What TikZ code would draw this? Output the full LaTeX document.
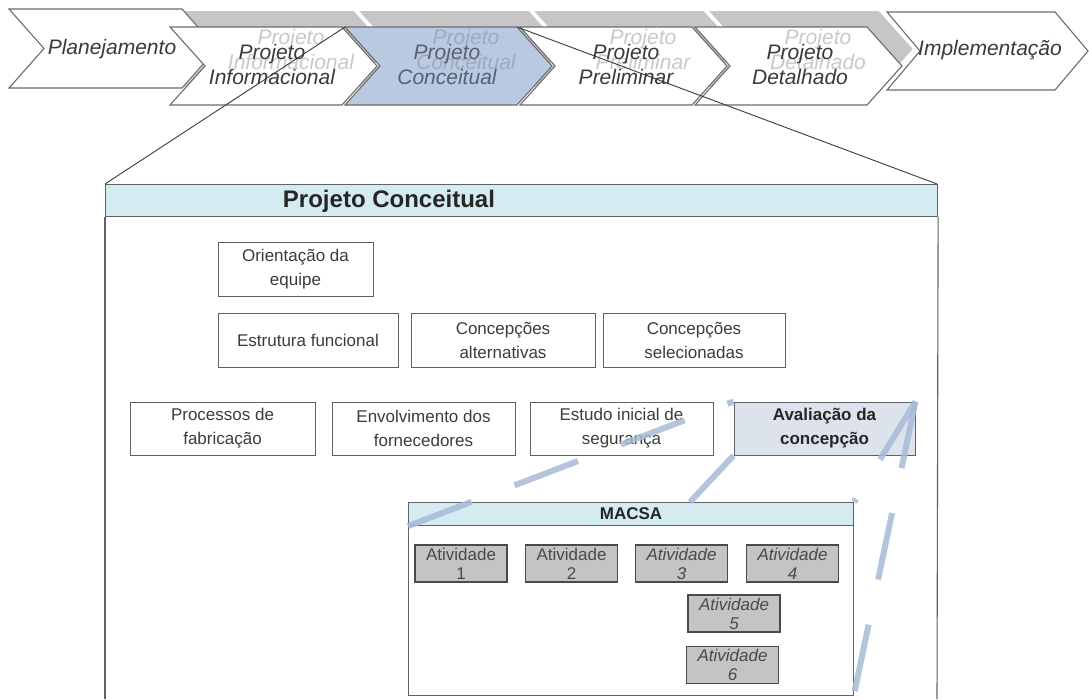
\documentclass[tikz,border=0pt]{standalone}
\usepackage{fontspec}
\setmainfont{Liberation Sans}
\usetikzlibrary{calc}

\definecolor{chevborder}{HTML}{6C6C6C}
\definecolor{shadowgray}{HTML}{C6C6C6}
\definecolor{fadegray}{HTML}{C9C9C9}
\definecolor{fadeblue}{HTML}{9DAAC0}
\definecolor{chevink}{HTML}{3A3A3A}
\definecolor{concblue}{HTML}{B9C9E2}
\definecolor{concink}{HTML}{58616F}
\definecolor{headcyan}{HTML}{D4ECF1}
\definecolor{evalfill}{HTML}{DDE3ED}
\definecolor{dashblue}{HTML}{A6BBD7}
\definecolor{actgray}{HTML}{C4C4C4}
\definecolor{actink}{HTML}{4A4A4A}
\definecolor{boxink}{HTML}{3C3C3C}
\definecolor{frameline}{HTML}{626262}

% chevron: style, left x, top y, body width, height, point depth
\newcommand{\chevshape}[6]{%
  \path[#1] (#2,#3) -- ++(#4,0) -- ++(#6,#5/2) -- ++(-#6,#5/2)
    -- ++(-#4,0) -- ++(#6,-#5/2) -- cycle;}

\begin{document}
\begin{tikzpicture}[x=1pt,y=-1pt,
  chev/.style={draw=chevborder, line width=1.1pt, fill=white, line join=miter},
  shadowchev/.style={fill=shadowgray, draw=white, line width=1.6pt},
  chevtext/.style={font=\fontsize{21}{25}\selectfont\itshape, text=chevink, align=center, inner sep=0pt},
  fadetext/.style={chevtext, text=fadegray},
  stagebox/.style={draw=frameline, line width=1pt, fill=white, align=center,
    font=\fontsize{17}{24}\selectfont, text=boxink, inner sep=1pt, minimum height=54pt},
  actbox/.style={draw=actink, line width=1.1pt, fill=actgray, align=center,
    font=\fontsize{17}{19}\selectfont, text=actink, minimum width=92pt, minimum height=37pt, inner sep=0pt},
  actit/.style={actbox, font=\fontsize{17}{19}\selectfont\itshape},
  zoomline/.style={draw=chevink, line width=0.9pt},
  dashproj/.style={draw=dashblue, line width=6pt, dash pattern=on 68pt off 46pt, opacity=0.85}
]
\useasboundingbox (0,0) rectangle (1089,699);

% shaded copies of the design phases, behind the main row
\chevshape{shadowchev}{182}{10}{172}{78}{35}
\chevshape{shadowchev}{357}{10}{172}{78}{35}
\chevshape{shadowchev}{532}{10}{172}{78}{35}
\chevshape{shadowchev}{707}{10}{172}{78}{35}

% outer phases
\chevshape{chev}{9}{9}{173}{79}{35}
\chevshape{chev}{887}{12}{168}{78}{33}

% design phases
\chevshape{chev}{170}{27}{172}{78}{35}
\chevshape{chev,fill=concblue}{345}{27}{172}{78}{35}
\chevshape{chev}{520}{27}{172}{78}{35}
\chevshape{chev}{695}{27}{172}{78}{35}

% faded labels of the shaded copies
\node[fadetext] (fInf) at (291,49) {Projeto\\Informacional};
\node[fadetext, text=fadeblue] (fCon) at (466,49) {Projeto\\Conceitual};
\node[fadetext] (fPre) at (643,49) {Projeto\\Preliminar};
\node[fadetext] (fDet) at (818,49) {Projeto\\Detalhado};

% phase labels
\node[chevtext] (plan) at (112,49) {Planejamento};
\node[chevtext] (impl) at (990,50) {Implementação};
\node[chevtext] (inf) at (272,64) {Projeto\\Informacional};
\node[chevtext, text=concink] (con) at (447,64) {Projeto\\Conceitual};
\node[chevtext] (pre) at (626,64) {Projeto\\Preliminar};
\node[chevtext] (det) at (800,64) {Projeto\\Detalhado};

% detail frame of the conceptual phase
\coordinate (conTL) at (345,27);
\coordinate (conTR) at (517,27);
\coordinate (frTL) at (105,184);
\coordinate (frTR) at (937,184);
\node[draw=frameline, line width=1.1pt, fill=headcyan, minimum width=832pt, minimum height=32pt,
  anchor=north west, inner sep=0pt] (head) at (frTL) {};
\node[font=\fontsize{24}{28}\selectfont\bfseries, text=black!85, inner sep=0pt] (headtxt) at (389,201) {Projeto Conceitual};
\draw[draw=frameline, line width=1.1pt] (head.south west) -- (105,699);
\draw[draw=frameline, line width=1.1pt] (head.south east) -- (937,699);
\draw[zoomline] (conTL) -- (frTL);
\draw[zoomline] (conTR) -- (frTR);

% activities of the conceptual phase
\node[stagebox, minimum width=155pt] (orient) at (295.5,269.5) {Orientação da\\equipe};
\node[stagebox, minimum width=180pt] (estr) at (308,340.5) {Estrutura funcional};
\node[stagebox, minimum width=184pt] (calt) at (503,340.5) {Concepções\\alternativas};
\node[stagebox, minimum width=182pt] (csel) at (694,340.5) {Concepções\\selecionadas};
\node[stagebox, minimum width=185pt, minimum height=53pt] (proc) at (222.5,428.5) {Processos de\\fabricação};
\node[stagebox, minimum width=183pt, minimum height=53pt] (envol) at (423.5,428.5) {Envolvimento dos\\fornecedores};
\node[stagebox, minimum width=183pt, minimum height=53pt] (estudo) at (621.5,428.5) {Estudo inicial de\\segurança};
\node[stagebox, minimum width=181pt, minimum height=53pt, fill=evalfill, font=\fontsize{17}{24}\selectfont\bfseries, text=black!85] (aval) at (824.5,428.5) {Avaliação da\\concepção};

% MACSA detail
\node[draw=frameline, line width=1.1pt, fill=white, minimum width=445pt, minimum height=193pt,
  anchor=north west, inner sep=0pt] (macsa) at (408,502) {};
\node[draw=frameline, line width=1.1pt, fill=headcyan, minimum width=445pt, minimum height=23pt,
  anchor=north west, inner sep=0pt] (mhead) at (408,502) {};
\node[font=\fontsize{17}{20}\selectfont\bfseries, text=black!85, inner sep=0pt] (mtxt) at (mhead.center) {MACSA};

\node[actbox] (a1) at (461,563.5) {Atividade\\1};
\node[actbox] (a2) at (571.5,563.5) {Atividade\\2};
\node[actit] (a3) at (681.5,563.5) {Atividade\\3};
\node[actit] (a4) at (792.5,563.5) {Atividade\\4};
\node[actit] (a5) at (734,613.5) {Atividade\\5};
\node[actit] (a6) at (732.5,665) {Atividade\\6};

% projection of the evaluation step onto the MACSA detail
\coordinate (mBR) at (853,699);
\coordinate (mTop) at (690,502);
\draw[dashproj] (mhead.south west) -- (aval.north west);
\draw[dashproj] (aval.north east) -- (mhead.north east);
\draw[dashproj] (aval.north east) -- (mBR);
\draw[dashproj] (aval.south west) -- (mTop);
\end{tikzpicture}
\end{document}
